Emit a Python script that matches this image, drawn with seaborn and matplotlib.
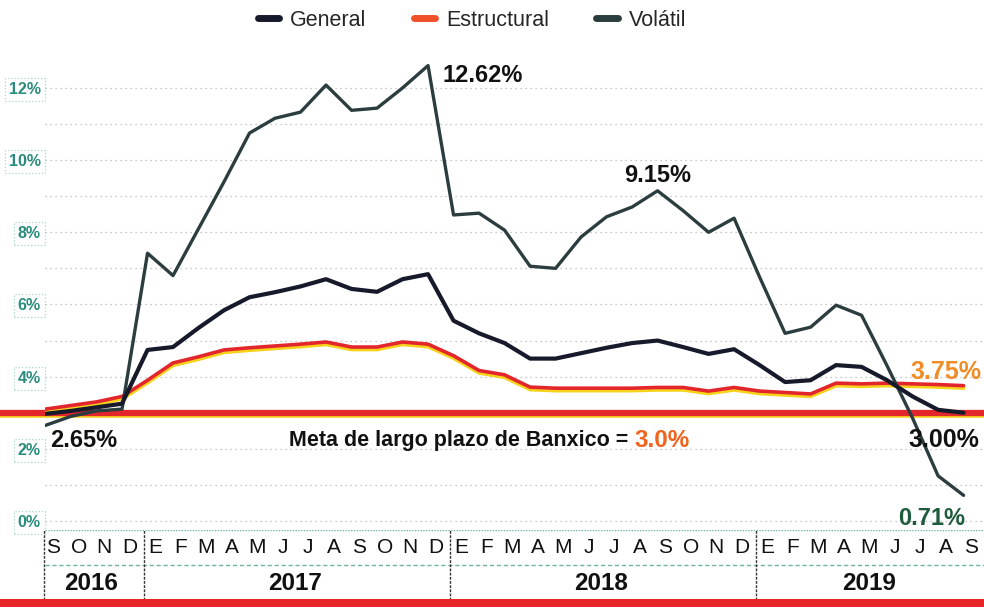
import numpy as np
import pandas as pd
import matplotlib
matplotlib.use("Agg")
import matplotlib.pyplot as plt
import matplotlib.transforms as mtransforms
from matplotlib.lines import Line2D
from matplotlib.patches import Rectangle
import seaborn as sns

# monthly annual inflation, Sep 2016 .. Sep 2019
month_letters = ["S", "O", "N", "D"] + list("EFMAMJJASOND") * 2 + list("EFMAMJJAS")
years = ["2016", "2017", "2018", "2019"]
year_months = [4, 12, 12, 9]

general = [2.97, 3.05, 3.15, 3.25,
           4.74, 4.82, 5.35, 5.84, 6.2, 6.34, 6.5, 6.7, 6.43, 6.35, 6.7, 6.84,
           5.55, 5.2, 4.93, 4.5, 4.5, 4.65, 4.8, 4.93, 5.0, 4.82, 4.63, 4.76,
           4.32, 3.85, 3.9, 4.32, 4.27, 3.9, 3.45, 3.08, 3.00]
estructural = [3.1, 3.2, 3.3, 3.45,
               3.9, 4.38, 4.55, 4.74, 4.8, 4.85, 4.9, 4.96, 4.82, 4.82, 4.96, 4.9,
               4.58, 4.17, 4.05, 3.71, 3.68, 3.68, 3.68, 3.68, 3.7, 3.7, 3.6, 3.7,
               3.6, 3.56, 3.52, 3.82, 3.8, 3.82, 3.8, 3.78, 3.75]
volatil = [2.65, 2.9, 3.05, 3.1,
           7.42, 6.8, 8.1, 9.4, 10.75, 11.16, 11.33, 12.08, 11.38, 11.44, 12.0, 12.62,
           8.48, 8.53, 8.06, 7.06, 7.0, 7.87, 8.43, 8.7, 9.15, 8.6, 8.0, 8.39,
           6.76, 5.2, 5.37, 5.98, 5.7, 4.3, 2.85, 1.25, 0.71]
meta = 3.0

df = pd.DataFrame({"mes": np.arange(len(general)), "General": general,
                   "Estructural": estructural, "Volátil": volatil})

c_gen = "#161a2b"
c_vol = "#2c3d3f"
c_red = "#e3262c"
c_yel = "#f6d21a"
c_teal = "#2a8c7c"

sns.set_style("white")
plt.rcParams["font.family"] = ["Liberation Sans Narrow", "Liberation Sans", "DejaVu Sans"]
bold_font = ["Liberation Sans", "DejaVu Sans"]

fig = plt.figure(figsize=(9.84, 6.07), dpi=100)
W, H = 984.0, 607.0
ax = fig.add_axes([45 / W, 77 / H, 939 / W, 485 / H])
xmax = 36.8
ax.set_xlim(-0.02, xmax)
ax.set_ylim(-0.25, 13.19)

# dotted grid
for g in range(0, 13):
    ax.axhline(g, color="#b5b5b5", lw=0.9, ls=(0, (1, 3)), zorder=0)

# meta line (red with yellow underneath)
shadow = mtransforms.offset_copy(ax.transData, fig=fig, x=0, y=-2.5, units="dots")
ax.plot([-2, xmax], [meta, meta], color=c_yel, lw=4, transform=shadow, clip_on=False, zorder=1)
ax.plot([-2, xmax], [meta, meta], color=c_red, lw=4.5, clip_on=False, zorder=1.5)

# estructural (red over yellow)
ax.plot(df["mes"], df["Estructural"], color=c_yel, lw=2.6, transform=shadow, zorder=2)
sns.lineplot(data=df, x="mes", y="Estructural", color=c_red, lw=2.6, ax=ax, zorder=2.5)
sns.lineplot(data=df, x="mes", y="Volátil", color=c_vol, lw=2.4, ax=ax, zorder=3)
sns.lineplot(data=df, x="mes", y="General", color=c_gen, lw=3.0, ax=ax, zorder=4)

ax.set_xlabel("")
ax.set_ylabel("")
ax.set_xticks([])
ax.set_yticks(range(0, 13, 2))
ax.set_yticklabels([f"{v}%" for v in range(0, 13, 2)])
for lab in ax.get_yticklabels():
    lab.set_color(c_teal)
    lab.set_fontsize(11.5)
    lab.set_fontweight("bold")
    lab.set_bbox(dict(boxstyle="square,pad=0.25", fc="none", ec="#a8d8cc", ls=":", lw=0.9))
ax.tick_params(axis="y", length=0, pad=3)
sns.despine(ax=ax, left=True, bottom=True)

# annotations
last = len(general) - 1
peak_i = int(np.argmax(volatil))
peak2_i = 24
ax.annotate(f"{volatil[peak_i]:.2f}%", (peak_i, volatil[peak_i]), xytext=(14, -10),
            textcoords="offset pixels", ha="left", va="center", fontsize=17,
            fontweight="bold", family=bold_font, color="#111111")
ax.annotate(f"{volatil[peak2_i]:.2f}%", (peak2_i, volatil[peak2_i]), xytext=(0, 15),
            textcoords="offset pixels", ha="center", va="center", fontsize=17,
            fontweight="bold", family=bold_font, color="#111111")
ax.annotate(f"{volatil[0]:.2f}%", (0, volatil[0]), xytext=(5, -15),
            textcoords="offset pixels", ha="left", va="center", fontsize=17,
            fontweight="bold", family=bold_font, color="#111111")
ax.annotate(f"{general[last]:.2f}%", (last, general[last]), xytext=(-20, -27),
            textcoords="offset pixels", ha="center", va="center", fontsize=18,
            fontweight="bold", family=bold_font, color="#111111")
ax.annotate(f"{volatil[last]:.2f}%", (last, volatil[last]), xytext=(-32, -23),
            textcoords="offset pixels", ha="center", va="center", fontsize=17,
            fontweight="bold", family=bold_font, color="#1e5b3c")
ax.annotate(f"{estructural[last]:.2f}%", (last, estructural[last]), xytext=(-18, 14),
            textcoords="offset pixels", ha="center", va="center", fontsize=18,
            fontweight="bold", family=bold_font, color="#f08c25")
ax.text(23.1, 2.24, "Meta de largo plazo de Banxico = ", ha="right", va="center",
        fontsize=15.5, fontweight="bold", family=bold_font, color="#111111")
ax.text(23.1, 2.24, f"{meta:.1f}%", ha="left", va="center",
        fontsize=17.5, fontweight="bold", family=bold_font, color="#f0641e")

# legend
handles = [Line2D([], [], color=c_gen, lw=5),
           Line2D([], [], color="#f0502a", lw=5),
           Line2D([], [], color=c_vol, lw=5)]
fig.legend(handles, ["General", "Estructural", "Volátil"], loc="center",
           bbox_to_anchor=(472 / W, 1 - 20 / H), ncol=3, frameon=False,
           fontsize=15.5, handlelength=1.0, handletextpad=0.5, columnspacing=2.2)

# month / year table
tab = fig.add_axes([45 / W, 7 / H, 939 / W, 70 / H])
tab.set_xlim(ax.get_xlim())
tab.set_ylim(0, 1)
tab.axis("off")
tab.axhline(1, color="#6fb3a3", lw=1.0, ls=(0, (1, 1)))
tab.axhline(0.5, color="#6fb3a3", lw=1.0, ls=(0, (3, 2)))
for i, m in enumerate(month_letters):
    tab.text(i + 0.3, 0.75, m, ha="center", va="center", fontsize=15, color="#111111")
start = 0
bounds = [-0.06]
for y, n in zip(years, year_months):
    centre = start + (n - 1) / 2 + 0.3
    tab.text(centre, 0.24, y, ha="center", va="center", fontsize=17.5,
             fontweight="bold", family=bold_font, color="#111111")
    start += n
    bounds.append(start - 0.15)
for b in bounds[:-1]:
    tab.plot([b, b], [0, 1], color="#333333", lw=1.0, ls=(0, (2, 1)), clip_on=False)

fig.add_artist(Rectangle((0, 0), 1, 8 / H, transform=fig.transFigure,
                         facecolor="#e8262a", edgecolor="none", zorder=10))

plt.savefig("out.png", dpi=100)
